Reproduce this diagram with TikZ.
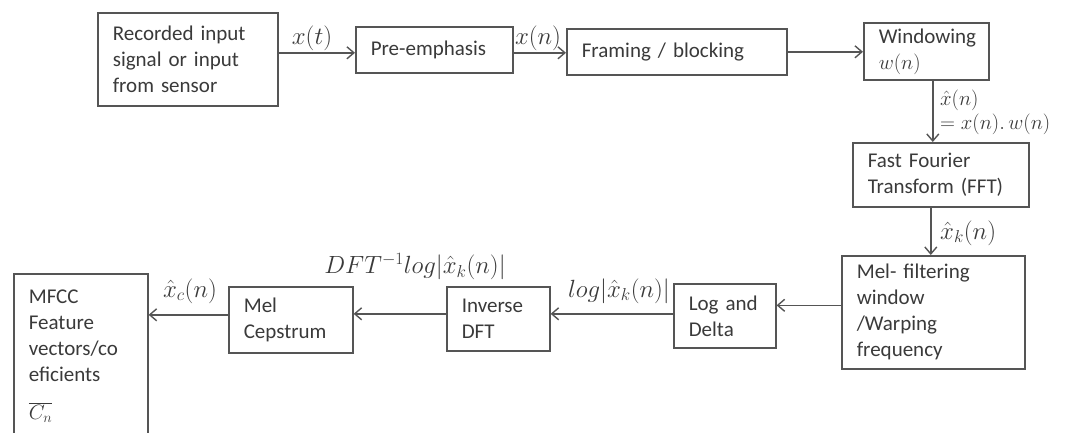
\documentclass[tikz,border=0pt]{standalone}
\usepackage{fontspec}
\setmainfont{Carlito}
\usetikzlibrary{arrows.meta,calc}
\definecolor{linegray}{HTML}{555555}
\definecolor{textgray}{HTML}{3A3A3A}
\tikzset{
  blk/.style={draw=linegray, line width=1.6pt, align=left, anchor=north west,
    inner xsep=15pt, inner ysep=0pt, text=textgray,
    font=\fontsize{21}{26}\selectfont},
  arr/.style={draw=linegray, line width=1.6pt, -{Straight Barb[length=7pt,width=12pt,line width=1.4pt]}},
  lbl/.style={inner sep=0pt, text=textgray, font=\fontsize{23}{25}\selectfont}
}
\begin{document}
\begin{tikzpicture}[x=1pt,y=-1pt]
\useasboundingbox (0,0) rectangle (1066,432);
\clip (0,0) rectangle (1066,432);
\fill[white] (0,0) rectangle (1066,432);
% boxes
\node[blk, text width=150pt, minimum height=93pt] (rec) at (97,12) {Recorded input\\signal or input\\from sensor};
\node[blk, text width=127pt, minimum height=46pt] (pre) at (355,26) {Pre-emphasis};
\node[blk, text width=190pt, minimum height=46pt] (frm) at (566,28) {Framing / blocking};
\node[blk, text width=95pt, minimum height=57pt] (win) at (863,22) {Windowing\\$w(n)$};
\node[blk, text width=146pt, minimum height=64pt] (fft) at (852,142) {Fast Fourier\\Transform (FFT)};
\node[blk, text width=153pt, minimum height=113pt] (mel) at (841,255) {Mel- filtering\\window\\/Warping\\frequency};
\node[blk, text width=72pt, minimum height=64pt] (log) at (673,283) {Log and\\Delta};
\node[blk, text width=73pt, minimum height=64pt] (inv) at (446,286) {Inverse\\DFT};
\node[blk, text width=94pt, minimum height=66pt] (cep) at (228,286) {Mel\\Cepstrum};
\node[blk, text width=104pt, minimum height=164pt] (mfcc) at (13,273) {MFCC\\Feature\\vectors/co\\eficients\\[12pt]$\overline{C_n}$};
% connectors
\draw[arr] ([yshift=-3pt]pre.west -| rec.east) -- ([yshift=-3pt]pre.west);
\draw[arr] ([yshift=-1pt]frm.west -| pre.east) -- ([yshift=-1pt]frm.west);
\draw[arr] (frm.east) -- (frm.east -| win.west);
\draw[arr] ([xshift=6.5pt]win.south) -- ([xshift=6.5pt]win.south |- fft.north);
\draw[arr] ([xshift=-10pt]fft.south) -- ([xshift=-10pt]fft.south |- mel.north);
\draw[arr] ([yshift=7pt]mel.west) -- ([yshift=7pt]mel.west -| log.east);
\draw[arr] ([yshift=2pt]log.west) -- ([yshift=2pt]log.west -| inv.east);
\draw[arr] ([yshift=5pt]inv.west) -- ([yshift=5pt]inv.west -| cep.east);
\draw[arr] ([yshift=5pt]cep.west) -- ([yshift=5pt]cep.west -| mfcc.east);
% labels
\node[lbl] (lt) at (312,38) {$x(t)$};
\node[lbl] (ln) at (538,38) {$x(n)$};
\node[lbl, anchor=west, font=\fontsize{21}{23}\selectfont] (lw1) at (940,100) {$\hat{x}(n)$};
\node[lbl, anchor=west, font=\fontsize{21}{23}\selectfont] (lw2) at (940,124) {$= x(n).\,w(n)$};
\node[lbl, anchor=west] (lk) at (940,233) {$\hat{x}_k(n)$};
\node[lbl] (llog) at (619,291) {$log|\hat{x}_k(n)|$};
\node[lbl] (ldft) at (415,267) {$DFT^{-1}log|\hat{x}_k(n)|$};
\node[lbl] (lc) at (190,291) {$\hat{x}_c(n)$};
\end{tikzpicture}
\end{document}
